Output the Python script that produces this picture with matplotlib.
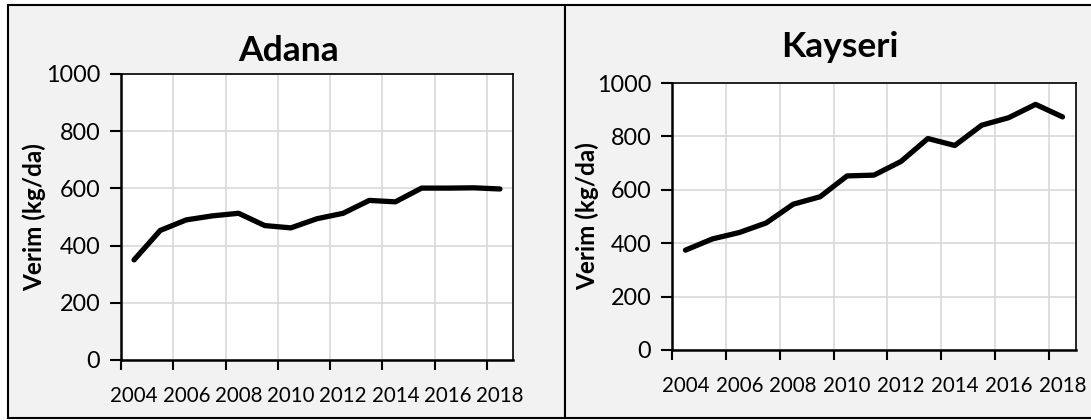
import matplotlib
matplotlib.use("Agg")
import matplotlib.pyplot as plt
from matplotlib.patches import Rectangle
from matplotlib.ticker import FixedLocator, NullFormatter, FixedFormatter

plt.rcParams['font.family'] = ['Lato', 'DejaVu Sans']

years = list(range(2004, 2019))
adana = [350, 453, 490, 504, 513, 470, 462, 494, 513, 558, 553, 601, 601, 602, 598]
kayseri = [374, 416, 440, 476, 546, 574, 652, 655, 706, 792, 766, 842, 870, 920, 873]
titles = ["Adana", "Kayseri"]
ylabel = "Verim (kg/da)"
yticks = [0, 200, 400, 600, 800, 1000]

W, H = 1091, 420
fig = plt.figure(figsize=(W / 100, H / 100), dpi=100)

def fx(x):
    return x / W

def fy(y):
    return 1 - y / H

# panel backgrounds
for (x0, x1) in [(8, 565), (565, 1095)]:
    fig.patches.append(Rectangle((fx(x0), fy(418)), fx(x1) - fx(x0), fy(5) - fy(418),
                                 transform=fig.transFigure, facecolor='#f2f2f2',
                                 edgecolor='black', linewidth=1.5, zorder=-5))

# axes positions in pixels: left, top, right, bottom
boxes = [(121, 74, 513, 360), (672, 83, 1076, 350)]
title_pos = [(289, 61), (840, 57)]
ylabel_x = [34, 587]
series = [adana, kayseri]

n = len(years)
xs = list(range(n))
for i in range(2):
    l, t, r, b = boxes[i]
    ax = fig.add_axes([fx(l), fy(b), fx(r) - fx(l), fy(t) - fy(b)])
    ax.set_zorder(2)
    ax.set_facecolor('white')
    ax.plot(xs, series[i], color='black', linewidth=3.8, solid_capstyle='round',
            solid_joinstyle='round', zorder=3)
    ax.set_xlim(-0.5, n - 0.5)
    ax.set_ylim(0, 1000)
    major = [k - 0.5 for k in range(0, n, 2)]
    ax.xaxis.set_major_locator(FixedLocator(major))
    ax.xaxis.set_major_formatter(NullFormatter())
    lab_pos = list(range(0, n, 2))
    ax.xaxis.set_minor_locator(FixedLocator(lab_pos))
    ax.xaxis.set_minor_formatter(FixedFormatter([str(years[k]) for k in lab_pos]))
    ax.tick_params(axis='x', which='major', length=7, width=1.5, direction='out', color='black')
    ax.tick_params(axis='x', which='minor', length=0, pad=19, labelsize=14.8)
    ax.set_yticks(yticks)
    ax.tick_params(axis='y', length=8, width=1.5, direction='out', pad=7, labelsize=16.8)
    ax.grid(True, which='major', color='#d9d9d9', linewidth=1.2, zorder=0)
    for side in ['left', 'bottom']:
        ax.spines[side].set_linewidth(1.8)
    for side in ['top', 'right']:
        ax.spines[side].set_linewidth(1.2)
    for s in ax.spines.values():
        s.set_color('black')
        s.set_zorder(4)
    ax.set_axisbelow(True)
    fig.text(fx(title_pos[i][0]), fy(title_pos[i][1]), titles[i], ha='center', va='baseline',
             fontsize=25.5, fontweight='bold', zorder=3)
    fig.text(fx(ylabel_x[i]), fy((t + b) / 2), ylabel, rotation=90, ha='center', va='center',
             fontsize=17.5, fontweight='bold', zorder=3)

fig.savefig('out.png', dpi=100, facecolor='white')
